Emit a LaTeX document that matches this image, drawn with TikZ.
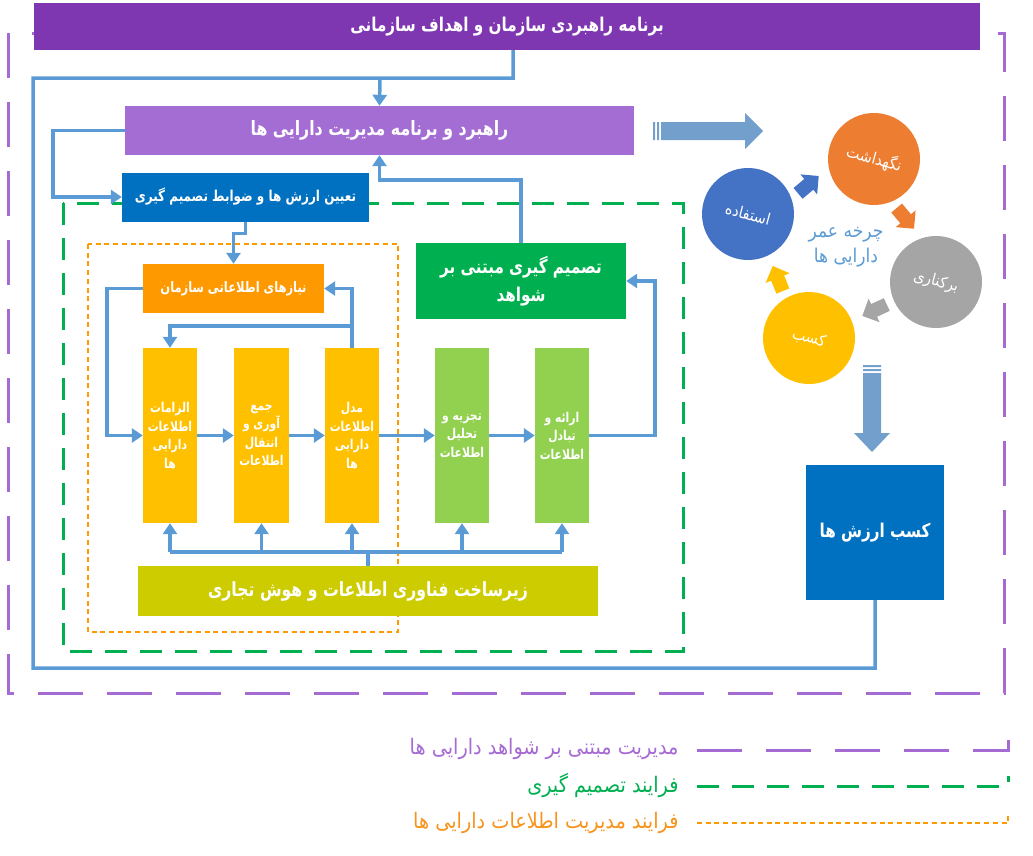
\documentclass[tikz,border=0pt]{standalone}
\usepackage{fontspec}
\usetikzlibrary{arrows.meta}
\TeXXeTstate=1
\newfontfamily\farsi[Script=Arabic,FakeStretch=0.9]{DejaVu Sans}
\newfontfamily\farsihead[Script=Arabic,FakeStretch=0.8]{DejaVu Sans}
\newcommand{\rtxt}[1]{\beginR#1\endR}
\definecolor{titlepurple}{HTML}{7E37B0}
\definecolor{planpurple}{HTML}{A46DD3}
\definecolor{deepblue}{HTML}{0070C0}
\definecolor{boxorange}{HTML}{FF9900}
\definecolor{boxyellow}{HTML}{FFC000}
\definecolor{boxlime}{HTML}{92D050}
\definecolor{boxgreen}{HTML}{00B050}
\definecolor{boxolive}{HTML}{CCCC00}
\definecolor{linkblue}{HTML}{5B9BD5}
\definecolor{bigblue}{HTML}{739FCC}
\definecolor{cirorange}{HTML}{ED7D31}
\definecolor{cirblue}{HTML}{4472C4}
\definecolor{cirgray}{HTML}{A5A5A5}
\definecolor{legpurple}{HTML}{A66BD3}
\definecolor{legorange}{HTML}{F7941D}
\tikzset{
  box/.style={fill=#1, text=white, align=center, inner sep=0pt},
  fs/.style n args={2}{font=\farsihead\bfseries\fontsize{#1}{#2}\selectfont},
  fr/.style n args={2}{font=\farsi\fontsize{#1}{#2}\selectfont},
  conn/.style={draw=linkblue, line width=3.5pt, line join=miter},
  arr/.style={conn, -{Triangle[width=14pt,length=11pt]}},
  circ/.style={circle, fill=#1, minimum size=92pt, inner sep=0pt, text=white, fr={16}{20}, rotate=-15},
  cycarrow/.pic={\fill (-13,-7) -- (1,-7) -- (1,-13) -- (14,0) -- (1,13) -- (1,7) -- (-13,7) -- cycle;},
  purpdash/.style={draw=legpurple, line width=3pt, dash pattern=on 45pt off 24pt},
  greendash/.style={draw=boxgreen, line width=3pt, dash pattern=on 22pt off 13pt},
  orangedot/.style={draw=boxorange, line width=2.5pt, dash pattern=on 5pt off 3.7pt}
}
\begin{document}
\begin{tikzpicture}[x=1pt,y=-1pt]
  \useasboundingbox (0,0) rectangle (1033,855);
  % regions
  \draw[purpdash] (8,33) rectangle (1004,693);
  \draw[greendash] (63,203) rectangle (683,651);
  \draw[orangedot] (88,244) rectangle (398,632);

  % boxes
  \node[box=titlepurple, minimum width=946pt, minimum height=47pt, fs={19}{22}] (title) at (507,26.5)
    {\rtxt{برنامه راهبردی سازمان و اهداف سازمانی}};
  \node[box=planpurple, minimum width=509pt, minimum height=49pt, fs={19.7}{22}] (rahbord) at (379.5,130.5)
    {\rtxt{راهبرد و برنامه مدیریت دارایی ها}};
  \node[box=deepblue, minimum width=247pt, minimum height=49pt, fs={15}{18}] (tayin) at (245.5,197)
    {\rtxt{تعیین ارزش ها و ضوابط تصمیم گیری}};
  \node[box=boxorange, minimum width=181pt, minimum height=49pt, fs={14.4}{17}] (niaz) at (233.5,288.5)
    {\rtxt{نیازهای اطلاعاتی سازمان}};
  \node[box=boxgreen, minimum width=210pt, minimum height=76pt, fs={19}{28}] (tasmim) at (521,281)
    {\rtxt{تصمیم گیری مبتنی بر}\\\rtxt{شواهد}};
  \node[box=boxyellow, minimum width=54pt, minimum height=175pt, fs={13.5}{18.5}] (elzamat) at (170,435.5)
    {\rtxt{الزامات}\\\rtxt{اطلاعات}\\\rtxt{دارایی}\\\rtxt{ها}};
  \node[box=boxyellow, minimum width=55pt, minimum height=175pt, fs={13.5}{18.5}] (jam) at (261.5,435.5)
    {\rtxt{جمع}\\\rtxt{آوری و}\\\rtxt{انتقال}\\\rtxt{اطلاعات}};
  \node[box=boxyellow, minimum width=54pt, minimum height=175pt, fs={13.5}{18.5}] (model) at (352,435.5)
    {\rtxt{مدل}\\\rtxt{اطلاعات}\\\rtxt{دارایی}\\\rtxt{ها}};
  \node[box=boxlime, minimum width=54pt, minimum height=175pt, fs={13.5}{18.5}] (tajzieh) at (462,435.5)
    {\rtxt{تجزیه و}\\\rtxt{تحلیل}\\\rtxt{اطلاعات}};
  \node[box=boxlime, minimum width=54pt, minimum height=175pt, fs={13.5}{18.5}] (eraeh) at (562,435.5)
    {\rtxt{ارائه و}\\\rtxt{تبادل}\\\rtxt{اطلاعات}};
  \node[box=boxolive, minimum width=460pt, minimum height=50pt, fs={19.6}{22}] (zirsakht) at (368,591)
    {\rtxt{زیرساخت فناوری اطلاعات و هوش تجاری}};
  \node[box=deepblue, minimum width=138pt, minimum height=135pt, fs={19}{22}] (arzesh) at (875,532.5)
    {\rtxt{کسب ارزش ها}};

  % connectors
  \coordinate (split) at (380,78);
  \draw[conn] ([xshift=6pt]title.south) -- ++(0,28) -- (33,78) -- (33,668) -| (arzesh.south);
  \draw[arr] (split) -- (rahbord.north);
  \draw[arr] (rahbord.west) -- ++(-72,0) |- (tayin.west);
  \draw[arr] (tayin.south) -- ++(0,12) -| (niaz.north);
  \draw[arr] (niaz.west) -- ++(-36,0) |- (elzamat.west);
  \draw[arr] (model.north) |- (niaz.east);
  \draw[arr] ([yshift=22pt]model.north) -| (elzamat.north);
  \draw[arr] (elzamat.east) -- (jam.west);
  \draw[arr] (jam.east) -- (model.west);
  \draw[arr] (model.east) -- (tajzieh.west);
  \draw[arr] (tajzieh.east) -- (eraeh.west);
  \draw[arr] (eraeh.east) -- ++(66,0) |- (tasmim.east);
  \draw[arr] (tasmim.north) -- ++(0,-63) -| (rahbord.south);
  \coordinate (bus) at ([yshift=14pt]zirsakht.north);
  \draw[conn] (zirsakht.north) -- (bus);
  \draw[conn] (elzamat.south |- bus) -- (eraeh.south |- bus);
  \foreach \b in {elzamat,jam,model,tajzieh,eraeh}
    \draw[arr] (\b.south |- bus) -- (\b.south);

  % big arrows
  \fill[bigblue] (653,122) rectangle (655,140) (657,122) rectangle (659,140);
  \fill[bigblue] (661,122) -- (745,122) -- (745,113) -- (763,131) -- (745,149) -- (745,140) -- (661,140) -- cycle;
  \fill[bigblue] (863,365) rectangle (881,367) (863,369) rectangle (881,371);
  \fill[bigblue] (863,373) -- (863,433) -- (854,433) -- (872,452) -- (890,433) -- (881,433) -- (881,373) -- cycle;

  % life cycle
  \node[circ=cirorange] (negahdasht) at (874,159) {\rtxt{نگهداشت}};
  \node[circ=cirblue] (estefadeh) at (748,214) {\rtxt{استفاده}};
  \node[circ=cirgray] (barkenari) at (936,282) {\rtxt{برکناری}};
  \node[circ=boxyellow] (kasb) at (809,338) {\rtxt{کسب}};
  \pic[fill=cirblue, rotate=40] at (808,185) {cycarrow};
  \pic[fill=cirorange, rotate=-50] at (905,218) {cycarrow};
  \pic[fill=cirgray, rotate=205] at (875,310) {cycarrow};
  \pic[fill=boxyellow, rotate=112] at (778,279) {cycarrow};
  \node[text=linkblue, align=center, fr={19}{25}] (charkheh) at (846,247)
    {\rtxt{چرخه عمر}\\\rtxt{دارایی ها}};

  % legend
  \node[anchor=east, text=legpurple, fr={21.4}{24}] (legA) at (682,749) {\rtxt{مدیریت مبتنی بر شواهد دارایی ها}};
  \node[anchor=east, text=boxgreen, fr={21.4}{24}] (legB) at (682,786) {\rtxt{فرایند تصمیم گیری}};
  \node[anchor=east, text=legorange, fr={21.4}{24}] (legC) at (682,823) {\rtxt{فرایند مدیریت اطلاعات دارایی ها}};
  \draw[purpdash] (697,750) -- (1008,750) -- (1008,740);
  \draw[greendash] (697,786) -- (1008,786) -- (1008,776);
  \draw[orangedot] (697,823) -- (1008,823) -- (1008,816);
\end{tikzpicture}
\end{document}
